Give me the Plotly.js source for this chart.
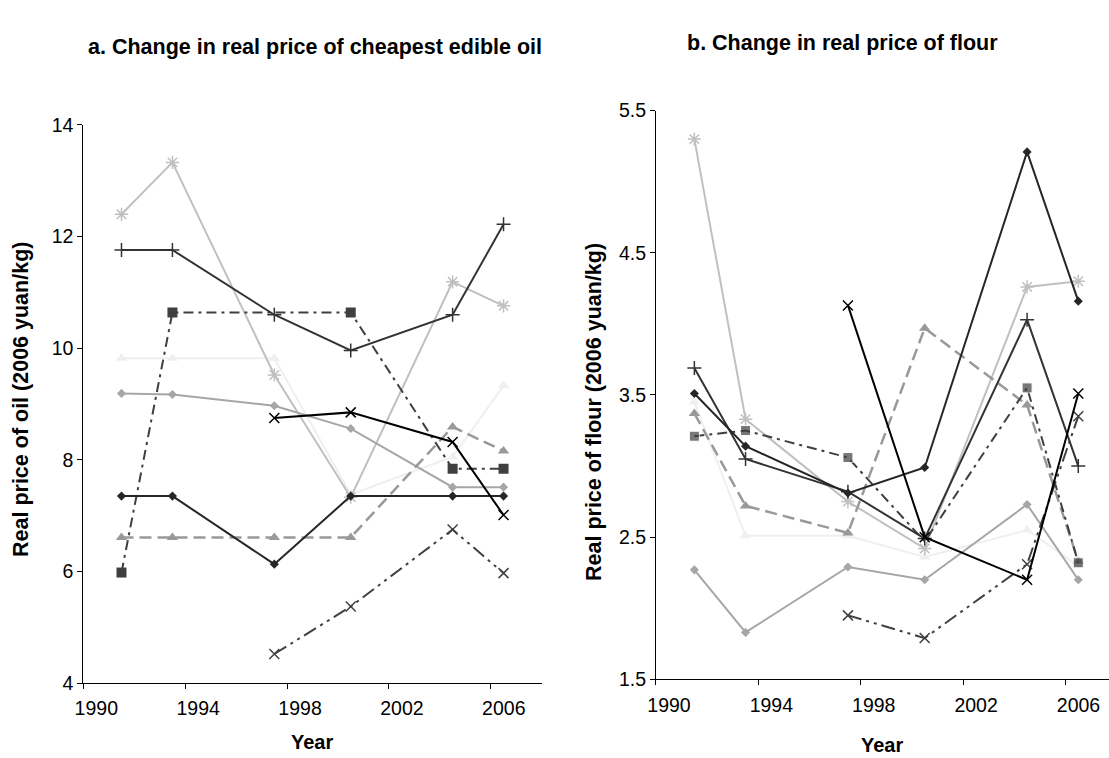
<!DOCTYPE html>
<html>
<head>
<meta charset="utf-8">
<script src="https://cdn.plot.ly/plotly-3.0.1.min.js"></script>
<style>html,body{margin:0;padding:0;background:#fff}#chart{width:1109px;height:758px}</style>
</head>
<body>
<div id="chart"></div>
<script>
// Survey years
const years = [1991, 1993, 1997, 2000, 2004, 2006];
const tickYears = ['1990', '1994', '1998', '2002', '2006'];

// a. Real price of cheapest edible oil (2006 yuan/kg)
const oilS1 = [12.40, 13.33, 9.52, 7.33, 11.19, 10.76];
const oilS2 = [11.76, 11.76, 10.60, 9.96, 10.60, 12.22];
const oilS3 = [5.98, 10.64, null, 10.64, 7.84, 7.84];
const oilS4 = [9.82, 9.82, 9.82, 7.38, 8.05, 9.33];
const oilS5 = [6.61, 6.61, 6.61, 6.61, 8.59, 8.16];
const oilS6 = [9.19, 9.17, 8.97, 8.56, 7.51, 7.51];
const oilS7 = [7.35, 7.35, 6.13, 7.35, 7.35, 7.35];
const oilS8 = [null, null, 8.75, 8.85, 8.32, 7.01];
const oilS9 = [null, null, 4.52, 5.37, 6.75, 5.97];

// b. Real price of flour (2006 yuan/kg)
const flourS1 = [5.30, 3.33, 2.75, 2.42, 4.26, 4.30];
const flourS2 = [3.69, 3.05, 2.82, 2.49, 4.03, 3.00];
const flourS3 = [3.21, 3.25, 3.06, 2.47, 3.55, 2.32];
const flourS4 = [3.45, 2.51, 2.51, 2.36, 2.55, 2.30];
const flourS5 = [3.37, 2.72, 2.53, 3.97, 3.43, 2.33];
const flourS6 = [2.27, 1.83, 2.29, 2.20, 2.73, 2.20];
const flourS7 = [3.51, 3.14, 2.81, 2.99, 5.21, 4.16];
const flourS8 = [null, null, 4.13, 2.50, 2.20, 3.51];
const flourS9 = [null, null, 1.95, 1.79, 2.31, 3.35];

const styles = [
  {line: {color: '#c0c0c0', width: 2}, marker: {symbol: 'asterisk-open', size: 11, color: '#c0c0c0', line: {color: '#c0c0c0', width: 1.5}}},
  {line: {color: '#333333', width: 2}, marker: {symbol: 'cross-thin-open', size: 10, color: '#333333', line: {color: '#333333', width: 1.5}}},
  {line: {color: '#3f3f3f', width: 2, dash: '10px,5px,3px,5px'}, marker: {symbol: 'square', size: 10, color: '#3f3f3f'}},
  {line: {color: '#efefef', width: 2}, marker: {symbol: 'triangle-up', size: 10, color: '#efefef'}},
  {line: {color: '#999999', width: 2.5, dash: '12px,6px'}, marker: {symbol: 'triangle-up', size: 10, color: '#999999'}},
  {line: {color: '#a6a6a6', width: 2}, marker: {symbol: 'diamond', size: 7, color: '#a6a6a6'}},
  {line: {color: '#262626', width: 2}, marker: {symbol: 'diamond', size: 7, color: '#262626'}},
  {line: {color: '#000000', width: 2}, marker: {symbol: 'x-thin-open', size: 10, color: '#000000', line: {color: '#000000', width: 1.5}}},
  {line: {color: '#404040', width: 2, dash: '14px,5px,3px,5px,3px,5px'}, marker: {symbol: 'x-thin-open', size: 10, color: '#404040', line: {color: '#404040', width: 1.5}}}
];

const oil = [oilS4, oilS1, oilS6, oilS5, oilS3, oilS2, oilS7, oilS9, oilS8];
const flour = [flourS4, flourS1, flourS6, flourS5, flourS3, flourS2, flourS7, flourS9, flourS8];
const styleIdx = [3, 0, 5, 4, 2, 1, 6, 8, 7];

const traces = [];
function addTraces(series, xa, ya, hideIdx) {
  series.forEach((ys, k) => {
    const st = JSON.parse(JSON.stringify(styles[styleIdx[k]]));
    if (hideIdx && hideIdx[styleIdx[k]] !== undefined) {
      st.marker.size = years.map((_, i) => i === hideIdx[styleIdx[k]] ? 0 : st.marker.size);
    }
    traces.push(Object.assign({
      type: 'scatter', mode: 'lines+markers', x: years, y: ys,
      xaxis: xa, yaxis: ya, connectgaps: true, showlegend: false, hoverinfo: 'skip', cliponaxis: false
    }, st));
  });
}
addTraces(oil, 'x', 'y', null);
addTraces(flour, 'x2', 'y2', {2: 3});

const font = {family: 'Liberation Sans, Arial, sans-serif', color: '#000'};
const axBase = {
  showgrid: false, zeroline: false, showline: true, linecolor: '#000', linewidth: 1,
  ticks: 'outside', ticklen: 5, tickcolor: '#000', tickwidth: 1,
  tickfont: Object.assign({size: 19.5}, font), fixedrange: true
};
const xBase = Object.assign({}, axBase, {
  tickmode: 'array', tickvals: [1989.5, 1993.5, 1997.5, 2001.5, 2005.5], ticktext: tickYears,
  ticklabelshift: 13, ticklabelstandoff: 3
});

const layout = {
  width: 1109, height: 758,
  margin: {l: 0, r: 0, t: 0, b: 0},
  paper_bgcolor: '#fff', plot_bgcolor: '#fff',
  font: font,
  xaxis: Object.assign({}, xBase, {domain: [0.0751, 0.4885], range: [1989.5, 2007.5], anchor: 'y'}),
  yaxis: Object.assign({}, axBase, {domain: [0.0989, 0.8351], range: [4, 14], tickvals: [4, 6, 8, 10, 12, 14], anchor: 'x'}),
  xaxis2: Object.assign({}, xBase, {domain: [0.5915, 1.0], range: [1989.5, 2007.2], anchor: 'y2'}),
  yaxis2: Object.assign({}, axBase, {domain: [0.1038, 0.8540], range: [1.5, 5.5], tickvals: [1.5, 2.5, 3.5, 4.5, 5.5], anchor: 'x2'}),
  annotations: [
    {text: '<b>a. Change in real price of cheapest edible oil</b>', xref: 'paper', yref: 'paper', x: 315 / 1109, y: 1 - 47 / 758, xanchor: 'center', yanchor: 'middle', showarrow: false, font: Object.assign({size: 21.5}, font)},
    {text: '<b>b. Change in real price of flour</b>', xref: 'paper', yref: 'paper', x: 842 / 1109, y: 1 - 43 / 758, xanchor: 'center', yanchor: 'middle', showarrow: false, font: Object.assign({size: 21.5}, font)},
    {text: '<b>Real price of oil (2006 yuan/kg)</b>', xref: 'paper', yref: 'paper', x: 21 / 1109, y: 1 - 400 / 758, xanchor: 'center', yanchor: 'middle', textangle: -90, showarrow: false, font: Object.assign({size: 21.5}, font)},
    {text: '<b>Real price of flour (2006 yuan/kg)</b>', xref: 'paper', yref: 'paper', x: 594 / 1109, y: 1 - 412 / 758, xanchor: 'center', yanchor: 'middle', textangle: -90, showarrow: false, font: Object.assign({size: 21.5}, font)},
    {text: '<b>Year</b>', xref: 'paper', yref: 'paper', x: 312 / 1109, y: 1 - 742 / 758, xanchor: 'center', yanchor: 'middle', showarrow: false, font: Object.assign({size: 20}, font)},
    {text: '<b>Year</b>', xref: 'paper', yref: 'paper', x: 882 / 1109, y: 1 - 745 / 758, xanchor: 'center', yanchor: 'middle', showarrow: false, font: Object.assign({size: 20}, font)}
  ]
};

Plotly.newPlot('chart', traces, layout, {staticPlot: true, displayModeBar: false});
</script>
</body>
</html>
